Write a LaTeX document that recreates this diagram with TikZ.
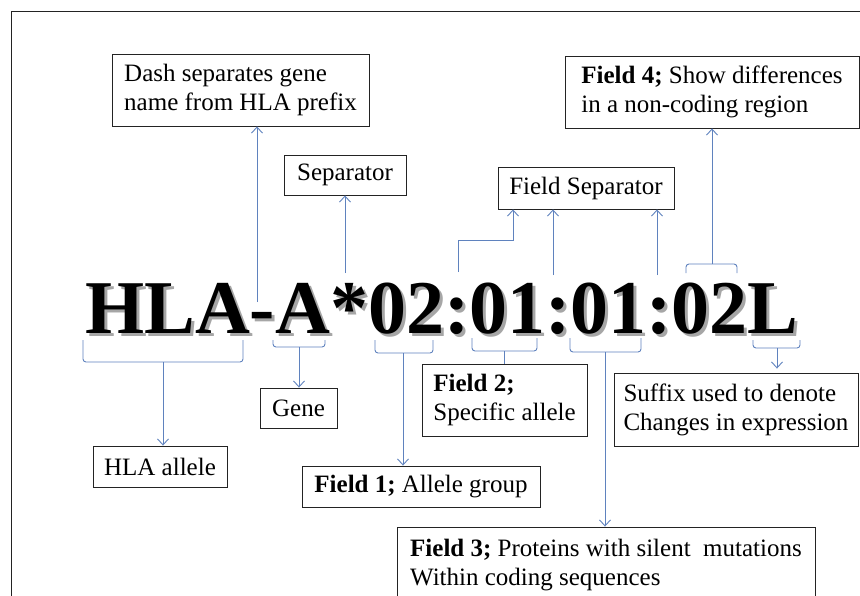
\documentclass[tikz,border=0pt]{standalone}
\usepackage{fontspec}
\setmainfont{Liberation Serif}
\usetikzlibrary{arrows.meta}
\definecolor{arrblue}{RGB}{95,130,190}
\definecolor{boxline}{RGB}{35,35,35}
\newcommand{\codetext}{HLA-A*02:01:01:02L}
\begin{document}
\begin{tikzpicture}[x=1pt,y=-1pt,
  box/.style={draw=boxline, line width=0.9pt, fill=white, inner sep=0pt,
    font=\fontsize{25}{29}\selectfont, align=left},
  arr/.style={draw=arrblue, line width=0.9pt, -{Straight Barb[length=6pt,width=11pt]}},
  brk/.style={draw=arrblue, line width=0.9pt, rounded corners=3pt},
  lnk/.style={draw=arrblue, line width=0.9pt},
  big/.style={anchor=base west, inner sep=0pt, font=\fontsize{76}{76}\selectfont\bfseries}]
\useasboundingbox (0,0) rectangle (860,595);
\clip (0,0) rectangle (860,595);
\fill[white] (0,0) rectangle (860,595);
\draw[boxline, line width=0.9pt] (11,620) -- (11,11) -- (880,11);

% boxes
\node[box, minimum width=257pt, minimum height=72pt] (dash) at (240.5,90) {Dash separates gene\\name from HLA prefix};
\node[box, minimum width=122pt, minimum height=40pt] (sep) at (345,175) {Separator};
\node[box, minimum width=176pt, minimum height=42pt] (fsep) at (586,188) {Field Separator};
\node[box, minimum width=294pt, minimum height=72pt] (f4) at (712,92) {\textbf{Field 4;} Show differences\\in a non-coding region};
\node[box, minimum width=77pt, minimum height=40pt] (gene) at (298.5,408) {Gene};
\node[box, minimum width=134pt, minimum height=41pt] (hla) at (160,466.5) {HLA allele};
\node[box, minimum width=238pt, minimum height=41pt] (f1) at (421,486.5) {\textbf{Field 1;} Allele group};
\node[box, minimum width=165pt, minimum height=72pt] (f2) at (504.5,400) {\textbf{Field 2;}\\Specific allele};
\node[box, minimum width=244pt, minimum height=73pt] (suf) at (736,409.5) {Suffix used to denote\\Changes in expression};
\node[box, minimum width=418pt, minimum height=76pt] (f3) at (606,565) {\textbf{Field 3;} Proteins with silent\ \ mutations\\Within coding sequences};

% big code with drop shadow (one node)
\node[big] (code) at (85,333) {\makebox[0pt][l]{\hspace{3pt}\raisebox{-3pt}{\color{black!35}\codetext}}\codetext};

% upward arrows
\coordinate (pdash) at (257,302);
\draw[arr] (pdash) -- (pdash |- dash.south);
\coordinate (psep) at (345,273);
\draw[arr] (psep) -- (psep |- sep.south);
\coordinate (pc1) at (458,272);
\coordinate (k1) at (513,240);
\draw[arr] (pc1) |- (k1) -- (k1 |- fsep.south);
\coordinate (pc2) at (553,275);
\draw[arr] (pc2) -- (pc2 |- fsep.south);
\coordinate (pc3) at (657,275);
\draw[arr] (pc3) -- (pc3 |- fsep.south);

% field 4 bracket (above)
\draw[brk] (686,273) -- (686,264) -- (737,264) -- (737,273);
\coordinate (b4) at (712,264);
\draw[arr] (b4) -- (b4 |- f4.south);

% brackets below
\draw[brk] (83,340) -- (83,362) -- (243,362) -- (243,340);
\coordinate (bh) at (163,362);
\draw[arr] (bh) -- (bh |- hla.north);

\draw[brk] (273,340) -- (273,347) -- (325,347) -- (325,340);
\coordinate (bg) at (299,347);
\draw[arr] (bg) -- (bg |- gene.north);

\draw[brk] (375,340) -- (375,353) -- (433,353) -- (433,340);
\coordinate (b1) at (403,353);
\draw[arr] (b1) -- (b1 |- f1.north);

\draw[brk] (472,338) -- (472,351) -- (537,351) -- (537,338);
\coordinate (b2) at (504,351);
\draw[lnk] (b2) -- (b2 |- f2.north);

\draw[brk] (570,338) -- (570,352) -- (641,352) -- (641,338);
\coordinate (b3) at (605,352);
\draw[arr] (b3) -- (b3 |- f3.north);

\draw[brk] (753,340) -- (753,348) -- (800,348) -- (800,340);
\coordinate (bs) at (777,348);
\draw[arr, shorten >=4pt] (bs) -- (bs |- suf.north);
\end{tikzpicture}
\end{document}
